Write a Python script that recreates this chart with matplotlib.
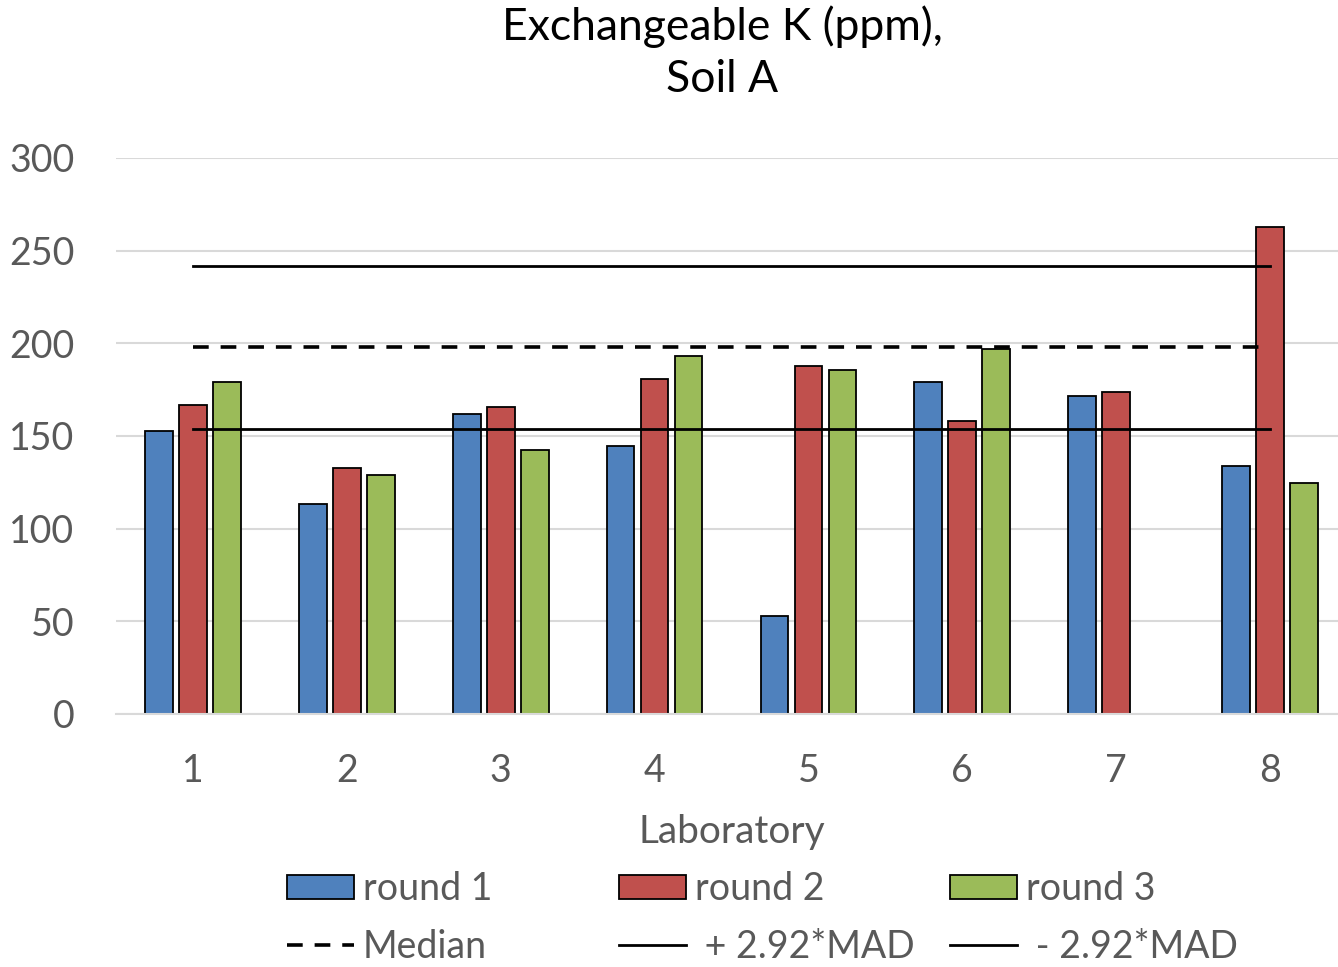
import numpy as np
import matplotlib.pyplot as plt
from matplotlib.patches import Patch
from matplotlib.lines import Line2D

# Values
labs = [1, 2, 3, 4, 5, 6, 7, 8]
round1 = [152.9, 113.5, 162.1, 144.8, 52.8, 179.0, 171.6, 133.6]
round2 = [166.8, 132.9, 165.9, 181.0, 188.0, 157.9, 174.0, 262.9]
round3 = [179.0, 128.8, 142.6, 192.9, 185.8, 197.0, np.nan, 124.6]
median = 198.1
upper = 241.6
lower = 154.0

plt.rcParams["font.family"] = ["Lato", "DejaVu Sans"]
grey = "#595959"
colors = ["#4F81BD", "#C0504D", "#9BBB59"]
names = ["round 1", "round 2", "round 3"]
dash = (0, (4.35, 3.3))

fig = plt.figure(figsize=(13.38, 9.67), dpi=100)
ax = fig.add_axes([116 / 1338, 1 - 714 / 967, (1347 - 116) / 1338, (714 - 158) / 967])

x = np.array(labs, dtype=float)
offsets = [-0.221, 0.0, 0.221]
for vals, off, c in zip([round1, round2, round3], offsets, colors):
    v = np.array(vals, dtype=float)
    ok = ~np.isnan(v)
    ax.bar(x[ok] + off, v[ok], width=0.18, color=c, edgecolor="black",
           linewidth=1.3, zorder=2)

ax.plot(labs, [median] * len(labs), color="black", lw=2.6,
        linestyle=dash, zorder=3)
ax.plot(labs, [upper] * len(labs), color="black", lw=2.0, zorder=3)
ax.plot(labs, [lower] * len(labs), color="black", lw=2.0, zorder=3)

ax.set_xlim(0.5, 8.5)
ax.set_ylim(0, 300)
ax.set_yticks(range(0, 301, 50))
ax.set_xticks(labs)
ax.yaxis.grid(True, color="#D9D9D9", lw=1.5)
ax.set_axisbelow(True)
for s in ["left", "right", "top"]:
    ax.spines[s].set_visible(False)
ax.spines["bottom"].set_color("#D9D9D9")
ax.spines["bottom"].set_linewidth(1.5)
ax.tick_params(axis="both", length=0, labelsize=27, labelcolor=grey)
ax.tick_params(axis="y", pad=30)
ax.tick_params(axis="x", pad=28)
ax.set_xlabel("Laboratory", fontsize=28, color=grey, labelpad=18)

fig.text(722 / 1338, 1 - 27 / 967, "Exchangeable K (ppm),", ha="center",
         va="center", fontsize=32, color="black")
fig.text(722 / 1338, 1 - 80 / 967, "Soil A", ha="center", va="center",
         fontsize=32, color="black")

# Legend: three columns of two rows, like the spreadsheet layout
line_kw = dict(color="black", lw=2.0)
columns = [
    (287, Patch(facecolor=colors[0], edgecolor="black", lw=1.3), names[0],
     Line2D([], [], color="black", lw=2.6, linestyle=dash), "Median"),
    (619, Patch(facecolor=colors[1], edgecolor="black", lw=1.3), names[1],
     Line2D([], [], **line_kw), " + 2.92*MAD"),
    (950, Patch(facecolor=colors[2], edgecolor="black", lw=1.3), names[2],
     Line2D([], [], **line_kw), " - 2.92*MAD"),
]
for xpix, h1, l1, h2, l2 in columns:
    leg = fig.legend([h1, h2], [l1, l2], loc="center left",
                     bbox_to_anchor=(xpix / 1338, 1 - 918 / 967),
                     frameon=False, fontsize=27, handlelength=1.79,
                     handleheight=0.64, handletextpad=0.24, labelspacing=0.58,
                     borderpad=0, borderaxespad=0)
    for t in leg.get_texts():
        t.set_color(grey)

plt.savefig("out.png", dpi=100)
plt.close()
